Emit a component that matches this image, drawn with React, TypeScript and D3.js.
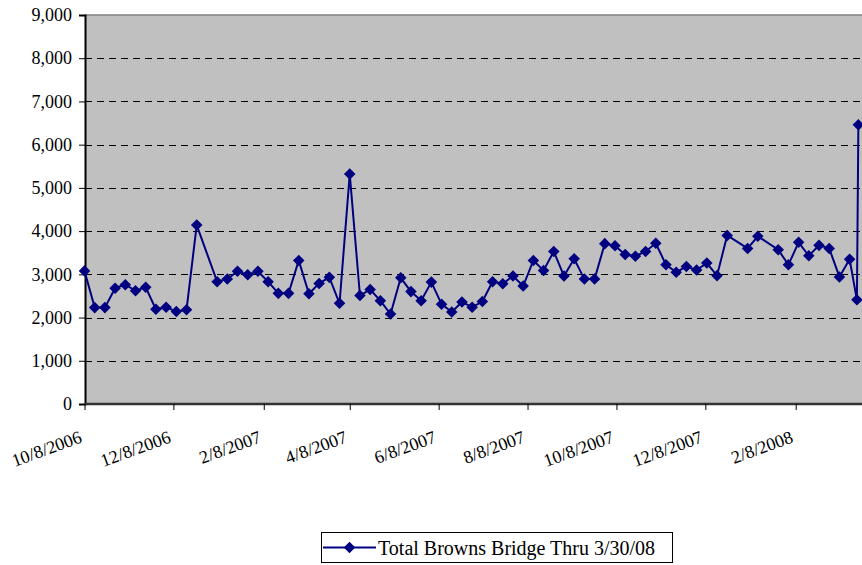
import { useEffect, useRef } from "react"
import * as d3 from "d3"

const weekDates = [
  "10/8/2006", "10/15/2006", "10/22/2006", "10/29/2006", "11/5/2006", "11/12/2006",
  "11/19/2006", "11/26/2006", "12/3/2006", "12/10/2006", "12/17/2006", "12/24/2006",
  "1/7/2007", "1/14/2007", "1/21/2007", "1/28/2007", "2/4/2007", "2/11/2007",
  "2/18/2007", "2/25/2007", "3/4/2007", "3/11/2007", "3/18/2007", "3/25/2007",
  "4/1/2007", "4/8/2007", "4/15/2007", "4/22/2007", "4/29/2007", "5/6/2007",
  "5/13/2007", "5/20/2007", "5/27/2007", "6/3/2007", "6/10/2007", "6/17/2007",
  "6/24/2007", "7/1/2007", "7/8/2007", "7/15/2007", "7/22/2007", "7/29/2007",
  "8/5/2007", "8/12/2007", "8/19/2007", "8/26/2007", "9/2/2007", "9/9/2007",
  "9/16/2007", "9/23/2007", "9/30/2007", "10/7/2007", "10/14/2007", "10/21/2007",
  "10/28/2007", "11/4/2007", "11/11/2007", "11/18/2007", "11/25/2007", "12/2/2007",
  "12/9/2007", "12/16/2007", "12/23/2007", "1/6/2008", "1/13/2008", "1/27/2008",
  "2/3/2008", "2/10/2008", "2/17/2008", "2/24/2008", "3/2/2008", "3/9/2008",
  "3/16/2008", "3/21/2008", "3/22/2008",
]

const totals = [
  3080, 2230, 2230, 2680, 2760, 2620,
  2700, 2190, 2240, 2140, 2180, 4140,
  2830, 2890, 3070, 2990, 3070, 2830,
  2560, 2560, 3320, 2550, 2790, 2930,
  2330, 5320, 2510, 2650, 2390, 2080,
  2920, 2600, 2390, 2820, 2310, 2130,
  2360, 2240, 2370, 2830, 2780, 2960,
  2730, 3320, 3090, 3530, 2960, 3360,
  2890, 2890, 3710, 3660, 3460, 3420,
  3530, 3720, 3220, 3050, 3180, 3100,
  3260, 2970, 3900, 3600, 3880, 3570,
  3220, 3740, 3430, 3670, 3600, 2940,
  3350, 2410, 6460,
]

const tickDates = [
  "10/8/2006", "12/8/2006", "2/8/2007", "4/8/2007", "6/8/2007",
  "8/8/2007", "10/8/2007", "12/8/2007", "2/8/2008",
]

const yTicks = [0, 1000, 2000, 3000, 4000, 5000, 6000, 7000, 8000, 9000]

const seriesName = "Total Browns Bridge Thru 3/30/08"

const W = 862
const H = 565
const FONT = "Liberation Serif, Times New Roman, DejaVu Serif, serif"
const NAVY = "#000080"

export default function App() {
  const svgRef = useRef<SVGSVGElement>(null)

  useEffect(() => {
    if (!svgRef.current) return
    const parse = d3.utcParse("%m/%d/%Y")
    const data = weekDates.map((d, i) => ({ date: parse(d) as Date, value: totals[i] }))
    const ticks = tickDates.map((d) => parse(d) as Date)

    const left = 85
    const top = 15
    const bottom = 404

    const svg = d3.select(svgRef.current)
    svg.selectAll("*").remove()

    // first and last labelled ticks sit at these pixels
    const x = d3.scaleUtc().domain([ticks[0], ticks[ticks.length - 1]]).range([84.5, 795.7])
    const y = d3.scaleLinear().domain([0, 9000]).range([bottom, top])

    // plot area
    svg.append("rect")
      .attr("x", left).attr("y", top)
      .attr("width", W - left).attr("height", bottom - top)
      .attr("fill", "#C0C0C0")
    svg.append("line")
      .attr("x1", left).attr("x2", W).attr("y1", top).attr("y2", top)
      .attr("stroke", "#808080").attr("stroke-width", 1.5)

    // gridlines
    svg.append("g")
      .selectAll("line")
      .data(yTicks.filter((t) => t > 0 && t < 9000))
      .enter()
      .append("line")
      .attr("x1", left).attr("x2", W)
      .attr("y1", (d) => Math.round(y(d)) + 0.5).attr("y2", (d) => Math.round(y(d)) + 0.5)
      .attr("stroke", "#000").attr("stroke-width", 1)
      .attr("stroke-dasharray", "7,5")

    // y axis
    const yAxis = svg.append("g")
      .attr("transform", `translate(${left},0)`)
      .attr("font-family", FONT)
      .call(d3.axisLeft(y).tickValues(yTicks).tickSize(6).tickPadding(7).tickFormat(d3.format(",") as any))
    yAxis.attr("font-family", FONT).attr("font-size", 18)
    yAxis.select(".domain").attr("stroke", "#000").attr("stroke-width", 2)
    yAxis.selectAll(".tick line").attr("stroke", "#000")
    yAxis.selectAll("text").attr("fill", "#000")

    // x axis
    const xAxis = svg.append("g")
      .attr("transform", `translate(0,${bottom})`)
      .call(d3.axisBottom(x).tickValues(ticks).tickSize(6).tickFormat(d3.utcFormat("%-m/%-d/%Y") as any))
    xAxis.attr("font-family", FONT).attr("font-size", 18)
    xAxis.select(".domain").attr("d", `M${left},0H${W}`).attr("stroke", "#333").attr("stroke-width", 2.5)
    xAxis.selectAll(".tick line").attr("stroke", "#000")
    xAxis.selectAll("text")
      .attr("fill", "#000")
      .attr("text-anchor", "end")
      .attr("dy", 0).attr("y", 0)
      .attr("transform", "translate(-2,38) rotate(-20)")

    // series
    const line = d3.line<{ date: Date; value: number }>()
      .x((d) => x(d.date))
      .y((d) => y(d.value))
    svg.append("path")
      .datum(data)
      .attr("d", line)
      .attr("fill", "none")
      .attr("stroke", NAVY)
      .attr("stroke-width", 2)

    const diamond = d3.symbol().type(d3.symbolDiamond2).size(85)
    svg.append("g")
      .selectAll("path")
      .data(data)
      .enter()
      .append("path")
      .attr("d", diamond)
      .attr("transform", (d) => `translate(${x(d.date)},${y(d.value)})`)
      .attr("fill", NAVY)

    // legend
    const lg = svg.append("g").attr("transform", "translate(321,532)")
    lg.append("rect")
      .attr("x", 0.5).attr("y", 0.5).attr("width", 351).attr("height", 30)
      .attr("fill", "#fff").attr("stroke", "#000").attr("stroke-width", 1)
    lg.append("line")
      .attr("x1", 2).attr("x2", 55).attr("y1", 15.5).attr("y2", 15.5)
      .attr("stroke", NAVY).attr("stroke-width", 2)
    lg.append("path")
      .attr("d", diamond)
      .attr("transform", "translate(28.5,15.5)")
      .attr("fill", NAVY)
    lg.append("text")
      .attr("x", 57).attr("y", 22.5)
      .attr("font-family", FONT).attr("font-size", 20)
      .attr("fill", "#000")
      .text(seriesName)
  }, [])

  return (
    <svg
      ref={svgRef}
      width={W}
      height={H}
      style={{ position: "absolute", left: 0, top: 0, background: "#fff" }}
    />
  )
}
